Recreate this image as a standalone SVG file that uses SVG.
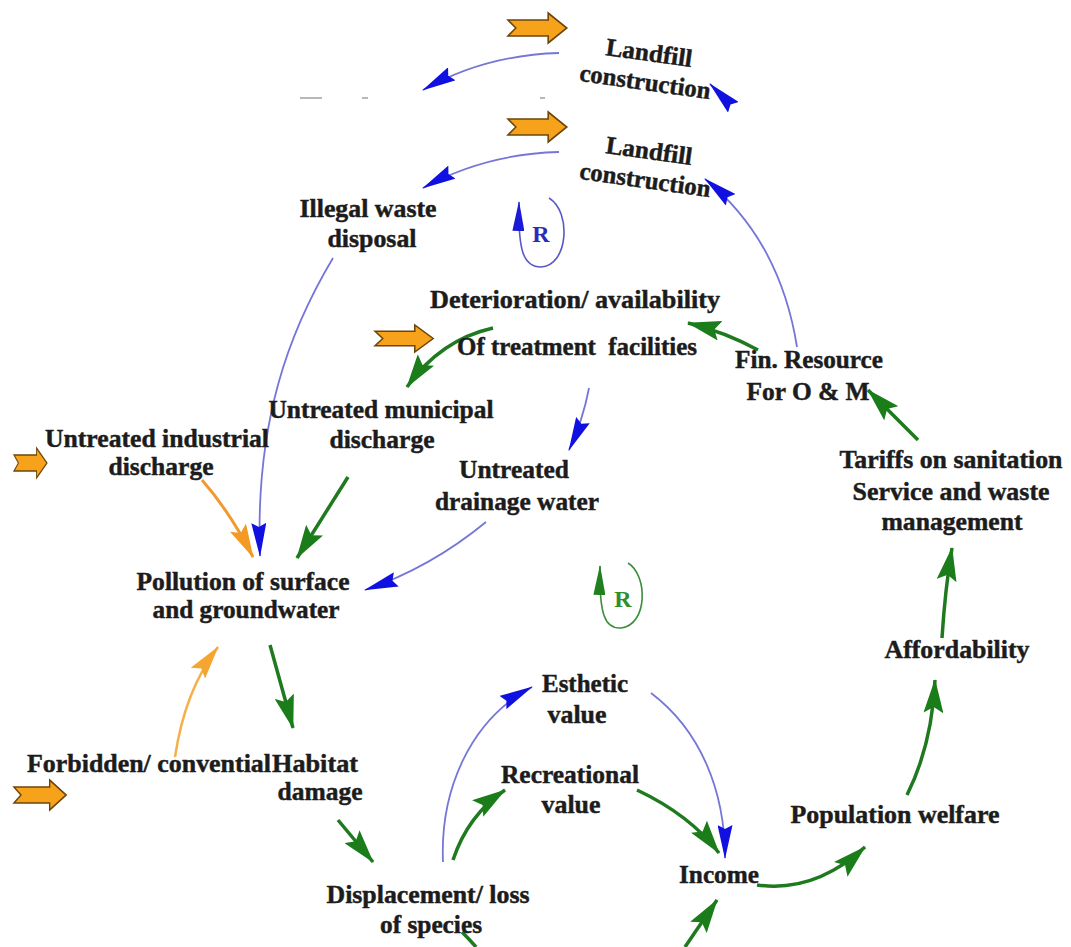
<svg xmlns="http://www.w3.org/2000/svg" width="1071" height="947" viewBox="0 0 1071 947">
<style>
.t{font-family:"Liberation Serif","Times New Roman",serif;font-weight:bold;font-size:25px;fill:#1c1c1c;stroke:#1c1c1c;stroke-width:0.45;text-anchor:middle}
.lb{fill:none;stroke:#7676d8;stroke-width:1.8}
.lg{fill:none;stroke:#1f7a1f;stroke-width:3.5}
.lo{fill:none;stroke:#f29a30;stroke-width:3}
.lo2{fill:none;stroke:#f6b04a;stroke-width:2.5}
.blk{fill:#f7a21b;stroke:#6e4508;stroke-width:1.6}
.frag{fill:#b8b8b8}
</style>
<defs>
<path id="blockarrow" d="M0,7 L41,7 L41,0 L60,15 L41,30 L41,23 L0,23 L8,15 Z"/>
<marker id="mb" markerUnits="userSpaceOnUse" viewBox="0 0 34 15" markerWidth="34" markerHeight="15" refX="33" refY="7.5" orient="auto"><path d="M0,0 L34,7.5 L0,15 L4,7.5 Z" fill="#1010e0"/></marker>
<marker id="mbs" markerUnits="userSpaceOnUse" viewBox="0 0 30 12" markerWidth="30" markerHeight="12" refX="29" refY="6" orient="auto"><path d="M0,0 L30,6 L0,12 Z" fill="#1a1ad8"/></marker>
<marker id="mg" markerUnits="userSpaceOnUse" viewBox="0 0 34 20" markerWidth="34" markerHeight="20" refX="33" refY="10" orient="auto"><path d="M0,0 L34,10 L0,20 L6,10 Z" fill="#1a7d1a"/></marker>
<marker id="mgs" markerUnits="userSpaceOnUse" viewBox="0 0 30 12" markerWidth="30" markerHeight="12" refX="29" refY="6" orient="auto"><path d="M0,0 L30,6 L0,12 Z" fill="#1e801e"/></marker>
<marker id="mo" markerUnits="userSpaceOnUse" viewBox="0 0 34 18" markerWidth="34" markerHeight="18" refX="33" refY="9" orient="auto"><path d="M0,0 L34,9 L0,18 L6,9 Z" fill="#f39a25"/></marker>
<marker id="mo2" markerUnits="userSpaceOnUse" viewBox="0 0 34 18" markerWidth="34" markerHeight="18" refX="33" refY="9" orient="auto"><path d="M0,0 L34,9 L0,18 L6,9 Z" fill="#f5a630"/></marker>
</defs>
<rect width="1071" height="947" fill="#ffffff"/>

<!-- exogenous block arrows -->
<g id="inputs">
<use href="#blockarrow" class="blk" transform="translate(508,13) scale(0.98,1)"/>
<use href="#blockarrow" class="blk" transform="translate(508,112) scale(0.98,1)"/>
<use href="#blockarrow" class="blk" transform="translate(375,325) scale(0.97,0.9)"/>
<use href="#blockarrow" class="blk" transform="translate(14,448) scale(0.55,1)"/>
<use href="#blockarrow" class="blk" transform="translate(14,780) scale(0.87,1)"/>
</g>

<!-- clipped fragments -->
<g id="fragments">
<rect class="frag" x="300" y="97" width="22" height="2"/>
<rect class="frag" x="362" y="97" width="6" height="2"/>
<rect class="frag" x="540" y="97" width="5" height="2"/>
</g>

<g id="connectors">
<!-- blue -->
<path class="lb" d="M559,53 Q485,55 423,90" marker-end="url(#mb)"/>
<path class="lb" d="M559,152 Q485,154 423,188" marker-end="url(#mb)"/>
<path class="lb" d="M727,101 L710,84" marker-end="url(#mb)"/>
<path class="lb" d="M797,347 Q780,240 705,179" marker-end="url(#mb)"/>
<path class="lb" d="M333,258 C290,330 255,420 260,556" marker-end="url(#mb)"/>
<path class="lb" d="M589,388 Q583,420 569,450" marker-end="url(#mb)"/>
<path class="lb" d="M486,522 Q430,568 365,590" marker-end="url(#mb)"/>
<path class="lb" d="M443,862 C440,790 470,720 532,687" marker-end="url(#mb)"/>
<path class="lb" d="M651,693 C700,730 725,790 725,858" marker-end="url(#mb)"/>
<path fill="none" stroke="#5858c8" stroke-width="1.6" d="M549,198 C572,212 568,266 541,267 C523,267 518,250 519,202" marker-end="url(#mbs)"/>
<!-- green -->
<path class="lg" d="M493,328 Q440,340 407,387" marker-end="url(#mg)"/>
<path class="lg" d="M758,350 Q725,332 688,323" marker-end="url(#mg)"/>
<path class="lg" d="M918,440 L868,390" marker-end="url(#mg)"/>
<path class="lg" d="M942,638 Q945,590 952,548" marker-end="url(#mg)"/>
<path class="lg" d="M907,795 Q932,745 935,680" marker-end="url(#mg)"/>
<path class="lg" d="M757,885 Q815,893 865,847" marker-end="url(#mg)"/>
<path class="lg" d="M637,790 Q690,815 719,853" marker-end="url(#mg)"/>
<path class="lg" d="M348,477 L297,558" marker-end="url(#mg)"/>
<path class="lg" d="M270,645 L293,728" marker-end="url(#mg)"/>
<path class="lg" d="M338,820 L373,862" marker-end="url(#mg)"/>
<path class="lg" d="M453,860 Q468,815 505,790" marker-end="url(#mg)"/>
<path class="lg" d="M685,947 L717,900" marker-end="url(#mg)"/>
<path class="lg" d="M462,932 Q470,940 476,947"/>
<path fill="none" stroke="#3a8f3a" stroke-width="1.6" d="M628,563 C648,575 648,625 621,628 C605,629 599,615 600,566" marker-end="url(#mgs)"/>
<!-- orange -->
<path class="lo" d="M202,480 Q230,512 253,557" marker-end="url(#mo)"/>
<path class="lo2" d="M175,757 Q185,690 218,647" marker-end="url(#mo2)"/>
</g>

<g id="loop-R1"><text x="541" y="242" style="font-family:'Liberation Serif',serif;font-weight:bold;font-size:24px;fill:#2b2bb8;text-anchor:middle">R</text></g>
<g id="loop-R2"><text x="623" y="607" style="font-family:'Liberation Serif',serif;font-weight:bold;font-size:24px;fill:#2f8f2f;text-anchor:middle">R</text></g>

<g id="landfill-top"><text class="t" x="648" y="61" textLength="87" lengthAdjust="spacingAndGlyphs" transform="rotate(8 648 61)">Landfill</text><text class="t" x="644" y="90" textLength="132" lengthAdjust="spacingAndGlyphs" transform="rotate(8 644 90)">construction</text></g>
<g id="landfill"><text class="t" x="648" y="159" textLength="87" lengthAdjust="spacingAndGlyphs" transform="rotate(8 648 159)">Landfill</text><text class="t" x="644" y="188" textLength="132" lengthAdjust="spacingAndGlyphs" transform="rotate(8 644 188)">construction</text></g>
<g id="illegal"><text class="t" x="368" y="217" textLength="137" lengthAdjust="spacingAndGlyphs">Illegal waste</text><text class="t" x="372" y="247" textLength="89" lengthAdjust="spacingAndGlyphs">disposal</text></g>
<g id="deterioration"><text class="t" x="575" y="308" textLength="290" lengthAdjust="spacingAndGlyphs">Deterioration/ availability</text><text class="t" x="577" y="355" textLength="240" lengthAdjust="spacingAndGlyphs" xml:space="preserve">Of treatment  facilities</text></g>
<g id="finresource"><text class="t" x="809" y="368" textLength="148" lengthAdjust="spacingAndGlyphs">Fin. Resource</text><text class="t" x="808" y="400" textLength="123" lengthAdjust="spacingAndGlyphs">For O &amp; M</text></g>
<g id="tariffs"><text class="t" x="951" y="468" textLength="223" lengthAdjust="spacingAndGlyphs">Tariffs on sanitation</text><text class="t" x="951" y="500" textLength="197" lengthAdjust="spacingAndGlyphs">Service and waste</text><text class="t" x="952" y="530" textLength="141" lengthAdjust="spacingAndGlyphs">management</text></g>
<g id="affordability"><text class="t" x="957" y="658" textLength="145" lengthAdjust="spacingAndGlyphs">Affordability</text></g>
<g id="municipal"><text class="t" x="381" y="418" textLength="225" lengthAdjust="spacingAndGlyphs">Untreated municipal</text><text class="t" x="382" y="448" textLength="105" lengthAdjust="spacingAndGlyphs">discharge</text></g>
<g id="industrial"><text class="t" x="157" y="447" textLength="224" lengthAdjust="spacingAndGlyphs">Untreated industrial</text><text class="t" x="161" y="475" textLength="105" lengthAdjust="spacingAndGlyphs">discharge</text></g>
<g id="drainage"><text class="t" x="514" y="478" textLength="110" lengthAdjust="spacingAndGlyphs">Untreated</text><text class="t" x="517" y="510" textLength="164" lengthAdjust="spacingAndGlyphs">drainage water</text></g>
<g id="pollution"><text class="t" x="243" y="590" textLength="213" lengthAdjust="spacingAndGlyphs">Pollution of surface</text><text class="t" x="246" y="618" textLength="187" lengthAdjust="spacingAndGlyphs">and groundwater</text></g>
<g id="forbidden"><text class="t" x="149" y="772" textLength="244" lengthAdjust="spacingAndGlyphs">Forbidden/ convential</text></g>
<g id="habitat"><text class="t" x="315" y="772" textLength="86" lengthAdjust="spacingAndGlyphs">Habitat</text><text class="t" x="320" y="800" textLength="85" lengthAdjust="spacingAndGlyphs">damage</text></g>
<g id="displacement"><text class="t" x="428" y="903" textLength="203" lengthAdjust="spacingAndGlyphs">Displacement/ loss</text><text class="t" x="431" y="933" textLength="102" lengthAdjust="spacingAndGlyphs">of species</text></g>
<g id="esthetic"><text class="t" x="585" y="692" textLength="86" lengthAdjust="spacingAndGlyphs">Esthetic</text><text class="t" x="577" y="723" textLength="59" lengthAdjust="spacingAndGlyphs">value</text></g>
<g id="recreational"><text class="t" x="570" y="783" textLength="138" lengthAdjust="spacingAndGlyphs">Recreational</text><text class="t" x="571" y="813" textLength="59" lengthAdjust="spacingAndGlyphs">value</text></g>
<g id="income"><text class="t" x="719" y="883" textLength="80" lengthAdjust="spacingAndGlyphs">Income</text></g>
<g id="population"><text class="t" x="895" y="823" textLength="209" lengthAdjust="spacingAndGlyphs">Population welfare</text></g>
</svg>
